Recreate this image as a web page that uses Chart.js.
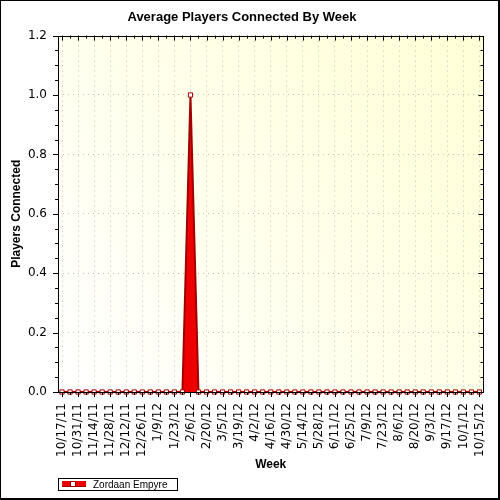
<!DOCTYPE html>
<html>
<head>
<meta charset="utf-8">
<script src="https://cdn.jsdelivr.net/npm/chart.js@4.4.0/dist/chart.umd.min.js"></script>
<style>
  html, body { margin: 0; padding: 0; background: #fff; }
  #wrap { width: 500px; height: 500px; position: relative; }
</style>
</head>
<body>
<div id="wrap"><canvas id="chart1" width="500" height="500"></canvas></div>
<script>
// weekly buckets, a tick label is shown every other week
const weeks = ['10/17/11','10/24/11','10/31/11','11/7/11','11/14/11','11/21/11','11/28/11','12/5/11',
  '12/12/11','12/19/11','12/26/11','1/2/12','1/9/12','1/16/12','1/23/12','1/30/12','2/6/12','2/13/12',
  '2/20/12','2/27/12','3/5/12','3/12/12','3/19/12','3/26/12','4/2/12','4/9/12','4/16/12','4/23/12',
  '4/30/12','5/7/12','5/14/12','5/21/12','5/28/12','6/4/12','6/11/12','6/18/12','6/25/12','7/2/12',
  '7/9/12','7/16/12','7/23/12','7/30/12','8/6/12','8/13/12','8/20/12','8/27/12','9/3/12','9/10/12',
  '9/17/12','9/24/12','10/1/12','10/8/12','10/15/12'];
const zordaan = [0,0,0,0,0,0,0,0,0,0,0,0,0,0,0,0,1.0,0,0,0,0,0,0,0,0,0,0,
  0,0,0,0,0,0,0,0,0,0,0,0,0,0,0,0,0,0,0,0,0,0,0,0,0,0];
const seriesName = 'Zordaan Empyre';
const yMajor = [0, 0.2, 0.4, 0.6, 0.8, 1.0, 1.2];

const darkRed = '#a00000';
const fillRed = '#ee0000';

function isMajorY(v) {
    return yMajor.some(m => Math.abs(m - v) < 1e-6);
}

const chartDecor = {
    id: 'chartDecor',
    beforeDraw(chart) {
        const c = chart.ctx, a = chart.chartArea;
        c.save();
        c.fillStyle = '#fff';
        c.fillRect(0, 0, chart.width, chart.height);
        const g = c.createLinearGradient(a.left, a.bottom, a.right, a.top);
        g.addColorStop(0, '#ffffff');
        g.addColorStop(1, '#ffffd6');
        c.fillStyle = g;
        c.fillRect(a.left, a.top, a.right - a.left, a.bottom - a.top);
        c.restore();
    },
    afterDraw(chart) {
        const c = chart.ctx, a = chart.chartArea;
        const xs = chart.scales.x, ys = chart.scales.y;
        c.save();
        c.strokeStyle = '#000';
        c.lineWidth = 1;
        c.beginPath();
        // y ticks, outside left and inside right
        ys.ticks.forEach((t, i) => {
            const y = Math.round(ys.getPixelForTick(i)) + 0.5;
            const len = isMajorY(t.value) ? 5 : 3;
            c.moveTo(a.left - len, y); c.lineTo(a.left, y);
            c.moveTo(a.right, y); c.lineTo(a.right - len, y);
        });
        // x ticks, outside bottom and inside top
        weeks.forEach((w, i) => {
            const x = Math.round(xs.getPixelForValue(i)) + 0.5;
            const len = i % 2 === 0 ? 5 : 3;
            c.moveTo(x, a.bottom); c.lineTo(x, a.bottom + len);
            c.moveTo(x, a.top); c.lineTo(x, a.top + len);
        });
        c.stroke();
        c.strokeRect(Math.round(a.left) + 0.5, Math.round(a.top) + 0.5,
            Math.round(a.right - a.left), Math.round(a.bottom - a.top));

        // legend box
        const lx = 58.5, ly = 478.5;
        c.strokeRect(lx, ly, 119, 12);
        c.fillStyle = fillRed;
        c.fillRect(62, 481, 24, 6);
        c.strokeStyle = darkRed;
        c.beginPath(); c.moveTo(62, 486.5); c.lineTo(86, 486.5); c.stroke();
        c.fillStyle = '#fff';
        c.fillRect(70, 481, 6, 6);
        c.strokeRect(70.5, 481.5, 5, 5);
        c.fillStyle = '#000';
        c.font = '10px "Liberation Sans", Arial, sans-serif';
        c.textBaseline = 'middle';
        c.fillText(chart.data.datasets[0].label, 93, 485);

        // outer frame
        c.strokeStyle = '#000';
        c.strokeRect(0.5, 0.5, 498, 498);
        c.beginPath(); c.moveTo(499.5, 0); c.lineTo(499.5, 500); c.moveTo(0, 499.5); c.lineTo(500, 499.5); c.stroke();
        c.restore();
    }
};

const ctx1 = document.getElementById('chart1').getContext('2d');
const chart1 = new Chart(ctx1, {
    type: 'line',
    data: {
        labels: weeks,
        datasets: [
            {
            label: seriesName,
            data: zordaan,
            fill: 'origin',
            backgroundColor: fillRed,
            borderColor: darkRed,
            borderWidth: 2,
            pointStyle: 'rect',
            pointRadius: 3,
            pointBackgroundColor: '#fff',
            pointBorderColor: darkRed,
            pointBorderWidth: 1,
            tension: 0,
            clip: false
            }
        ]
    },
    plugins: [chartDecor],
    options: {
        responsive: false,
        animation: false,
        devicePixelRatio: 1,
        layout: { padding: { left: 0, right: 16, top: 0, bottom: 25 } },
        plugins: {
            legend: { display: false },
            tooltip: { enabled: false },
            title: {
                display: true,
                text: 'Average Players Connected By Week',
                color: '#000',
                font: { family: '"Liberation Sans", Arial, sans-serif', size: 13, weight: 'bold' },
                padding: { top: 10, bottom: 10 }
            }
        },
        scales: {
            x: {
                offset: true,
                afterFit: (s) => { s.height = 83; },
                grid: {
                    offset: false,
                    tickLength: 5,
                    tickColor: 'rgba(0,0,0,0)',
                    color: (c) => c.index % 2 === 0 ? '#c4c4c4' : 'rgba(0,0,0,0)'
                },
                border: { display: false, dash: [1, 4] },
                ticks: {
                    autoSkip: false,
                    minRotation: 90,
                    maxRotation: 90,
                    padding: 6,
                    color: '#000',
                    font: { family: '"DejaVu Sans", sans-serif', size: 12 },
                    callback: function(val, i) { return i % 2 === 0 ? weeks[i] : ''; }
                },
                title: {
                    display: true,
                    text: 'Week',
                    color: '#000',
                    font: { family: '"Liberation Sans", Arial, sans-serif', size: 12, weight: 'bold' },
                    padding: { top: 0, bottom: 3 }
                }
            },
            y: {
                min: 0,
                max: 1.2,
                afterFit: (s) => { s.width = 58; },
                afterBuildTicks: (s) => {
                    const t = [];
                    for (let k = 0; k <= 24; k++) t.push({ value: k / 20 });
                    s.ticks = t;
                },
                grid: {
                    tickLength: 5,
                    tickColor: 'rgba(0,0,0,0)',
                    color: (c) => (c.tick && isMajorY(c.tick.value) && c.tick.value > 0 && c.tick.value < 1.2) ? '#c4c4c4' : 'rgba(0,0,0,0)'
                },
                border: { display: false, dash: [1, 4] },
                ticks: {
                    autoSkip: false,
                    padding: 6,
                    color: '#000',
                    font: { family: '"DejaVu Sans", sans-serif', size: 12 },
                    callback: (v) => isMajorY(v) ? v.toFixed(1) : ''
                },
                title: {
                    display: true,
                    text: 'Players Connected',
                    color: '#000',
                    font: { family: '"Liberation Sans", Arial, sans-serif', size: 12, weight: 'bold' },
                    padding: { top: 9, bottom: 0 }
                }
            }
        }
    }
});
</script>
</body>
</html>
